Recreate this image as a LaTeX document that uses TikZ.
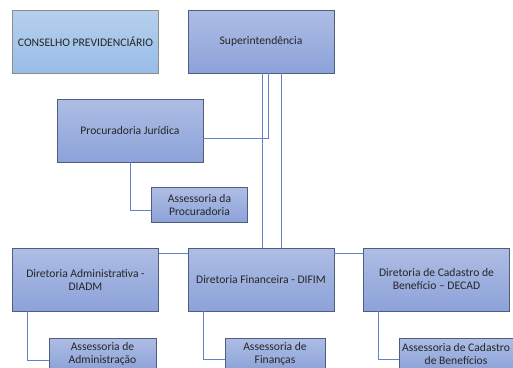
\documentclass[tikz,border=0pt]{standalone}
\usepackage{fontspec}
\setmainfont{Carlito}
\definecolor{boxtop}{HTML}{AEBDE4}
\definecolor{boxbot}{HTML}{8CA2D9}
\definecolor{lbtop}{HTML}{B6D0EC}
\definecolor{lbbot}{HTML}{98BDE7}
\definecolor{boxline}{HTML}{4F5D7E}
\definecolor{wire}{HTML}{5F82C8}
\tikzset{
  unit/.style={draw=boxline, line width=0.8pt, top color=boxtop, bottom color=boxbot,
    minimum width=146pt, minimum height=63pt, align=center, text=black!85,
    font=\fontsize{11.6}{13}\selectfont, inner sep=2pt},
  council/.style={unit, top color=lbtop, bottom color=lbbot, draw=black!45},
  advisory/.style={unit, minimum height=35pt, minimum width=96pt},
  lowadvisory/.style={advisory, minimum height=32pt}
}
\tikzset{wire/.style={draw=wire, line width=0.8pt}}
\begin{document}
\begin{tikzpicture}[x=1pt, y=-1pt]
  \useasboundingbox (0,0) rectangle (513,367);
  \clip (0,0) rectangle (513,367);
  \draw
    (85.5,41.5) node[council] (cons){CONSELHO PREVIDENCIÁRIO}
    (261,41.5) node[unit] (super){Superintendência}
    (130,130.5) node[unit] (proc){Procuradoria Jurídica}
    (199.5,205) node[advisory] (asproc){Assessoria da\\Procuradoria}
    (85.5,279.5) node[unit] (diadm){Diretoria Administrativa -\\DIADM}
    (261,279.5) node[unit] (difim){Diretoria Financeira - DIFIM}
    (436.5,279.5) node[unit] (decad){Diretoria de Cadastro de\\Benefício -- DECAD}
    (102.5,354) node[lowadvisory, minimum width=107pt] (asadm){Assessoria de\\Administração}
    (275,354) node[lowadvisory, minimum width=100pt] (asfin){Assessoria de\\Finanças}
    (456,354) node[lowadvisory, minimum width=114pt] (ascad){Assessoria de Cadastro\\de Benefícios};
  \begin{scope}[wire]
    \draw ([xshift=1pt]super.south) -- ([xshift=1pt]difim.north);
    \draw ([xshift=20pt]super.south) -- ([xshift=20pt]difim.north);
    \draw ([xshift=7pt]super.south) |- ([yshift=-7.5pt]proc.east);
    \draw (proc.south) |- ([yshift=-5pt]asproc.west);
    \draw ([yshift=-6pt]diadm.north east) -- ([yshift=-6pt]difim.north west);
    \draw ([yshift=-6pt]difim.north east) -- ([yshift=-6pt]decad.north west);
    \draw ([xshift=15pt]diadm.south west) |- ([yshift=-6pt]asadm.west);
    \draw ([xshift=16pt]difim.south west) |- ([yshift=-5pt]asfin.west);
    \draw ([xshift=15pt]decad.south west) |- ([yshift=-5pt]ascad.west);
  \end{scope}
\end{tikzpicture}
\end{document}
